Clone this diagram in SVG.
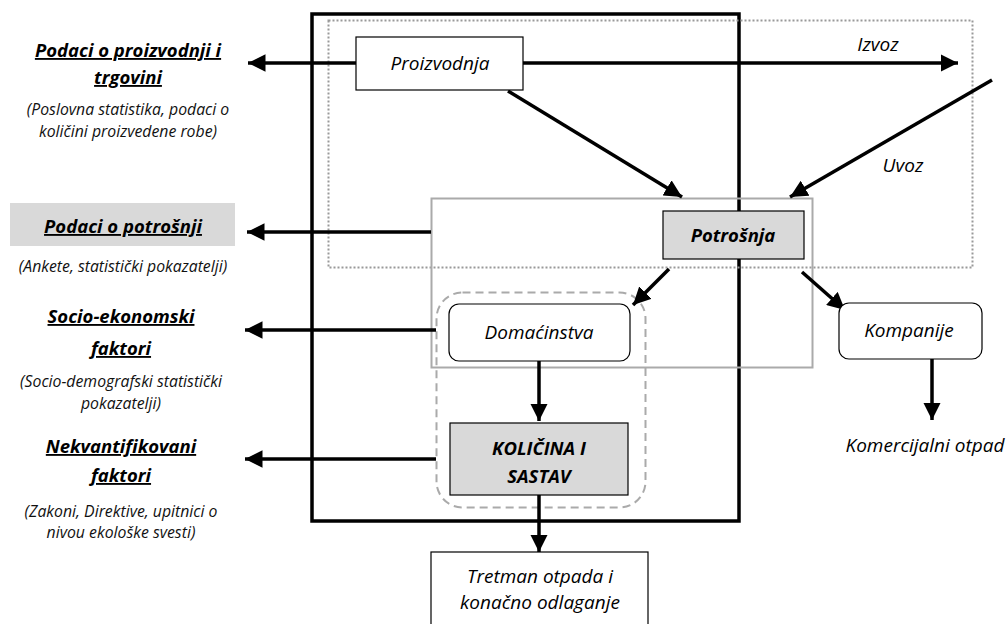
<svg xmlns="http://www.w3.org/2000/svg" width="1008" height="624" viewBox="0 0 1008 624">
<style>
text{font-family:"Open Sans","Noto Sans","Liberation Sans",sans-serif;font-style:italic;fill:#000;text-anchor:middle}
.n{font-size:19px}
.b{font-size:18.5px;font-weight:bold}
.u{text-decoration:underline}
.s{font-size:15.8px;fill:#111}
.box{fill:#fff;stroke:#000;stroke-width:1.2}
.gbox{fill:#d9d9d9;stroke:#000;stroke-width:1.2}
.c{stroke:#000;stroke-width:3.5;fill:none}
</style>
<defs>
<marker id="ah" viewBox="0 0 10 10" refX="10" refY="5" markerWidth="5" markerHeight="5" orient="auto" markerUnits="strokeWidth">
<path d="M0,0 L10,5 L0,10 z" fill="#000"/>
</marker>
</defs>
<rect width="1008" height="624" fill="#fff"/>

<g id="frames">
<rect x="312" y="14" width="427" height="507" fill="none" stroke="#000" stroke-width="3.5"/>
<rect x="328.5" y="20.5" width="644" height="247" fill="none" stroke="#999" stroke-width="2" stroke-dasharray="2,2"/>
<rect x="431.5" y="198.5" width="381" height="169" fill="none" stroke="#aaa" stroke-width="2"/>
<rect x="436.5" y="292.5" width="209" height="215" rx="26" fill="none" stroke="#aaa" stroke-width="2" stroke-dasharray="8,5"/>
</g>

<g id="connectors">
<line class="c" x1="356" y1="63" x2="248" y2="63" marker-end="url(#ah)"/>
<line class="c" x1="523" y1="63" x2="958" y2="63" marker-end="url(#ah)"/>
<line class="c" x1="992" y1="80" x2="790" y2="197" marker-end="url(#ah)"/>
<line class="c" x1="508" y1="91" x2="682" y2="197" marker-end="url(#ah)"/>
<line class="c" x1="431" y1="232" x2="247" y2="232" marker-end="url(#ah)"/>
<line class="c" x1="436" y1="330" x2="245" y2="330" marker-end="url(#ah)"/>
<line class="c" x1="436" y1="459" x2="245" y2="459" marker-end="url(#ah)"/>
<line class="c" x1="669" y1="269" x2="633" y2="305" marker-end="url(#ah)"/>
<line class="c" x1="802" y1="272" x2="845" y2="310" marker-end="url(#ah)"/>
<line class="c" x1="539" y1="361" x2="539" y2="421" marker-end="url(#ah)"/>
<line class="c" x1="539" y1="495" x2="539" y2="552" marker-end="url(#ah)"/>
<line class="c" x1="932" y1="359" x2="932" y2="420" marker-end="url(#ah)"/>
</g>

<g id="proizvodnja">
<rect class="box" x="356" y="37" width="167" height="53"/>
<text class="n" x="440" y="70">Proizvodnja</text>
</g>
<g id="izvoz"><text class="n" x="878" y="51">Izvoz</text></g>
<g id="uvoz"><text class="n" x="903" y="172">Uvoz</text></g>

<g id="potrosnja">
<rect class="gbox" x="663" y="211" width="141" height="48"/>
<text class="b" x="733" y="242">Potrošnja</text>
</g>

<g id="domacinstva">
<rect class="box" x="449" y="304" width="181" height="57" rx="10"/>
<text class="n" x="539" y="339">Domaćinstva</text>
</g>

<g id="kolicina">
<rect class="gbox" x="450" y="423" width="178" height="72"/>
<text class="b" x="539" y="455">KOLIČINA I</text>
<text class="b" x="539" y="483">SASTAV</text>
</g>

<g id="tretman">
<rect class="box" x="431" y="552" width="217" height="80"/>
<text class="n" x="540" y="583">Tretman otpada i</text>
<text class="n" x="540" y="609">konačno odlaganje</text>
</g>

<g id="kompanije">
<rect class="box" x="839" y="303" width="143" height="56" rx="10"/>
<text class="n" x="909" y="337">Kompanije</text>
</g>
<g id="komercijalni"><text class="n" x="925" y="452">Komercijalni otpad</text></g>

<g id="podaci-proizvodnja">
<text class="b u" x="128" y="57">Podaci o proizvodnji i</text>
<text class="b u" x="128" y="84">trgovini</text>
<text class="s" x="128" y="115">(Poslovna statistika, podaci o</text>
<text class="s" x="128" y="137">količini proizvedene robe)</text>
</g>

<g id="podaci-potrosnja">
<rect x="10" y="203" width="225" height="43" fill="#d9d9d9"/>
<text class="b u" x="123" y="233">Podaci o potrošnji</text>
<text class="s" x="123" y="272">(Ankete, statistički pokazatelji)</text>
</g>

<g id="socio">
<text class="b u" x="121" y="323">Socio-ekonomski</text>
<text class="b u" x="121" y="355">faktori</text>
<text class="s" x="121" y="387">(Socio-demografski statistički</text>
<text class="s" x="121" y="409">pokazatelji)</text>
</g>

<g id="nekvantifikovani">
<text class="b u" x="121" y="453">Nekvantifikovani</text>
<text class="b u" x="121" y="482">faktori</text>
<text class="s" x="121" y="517">(Zakoni, Direktive, upitnici o</text>
<text class="s" x="121" y="538">nivou ekološke svesti)</text>
</g>
</svg>
